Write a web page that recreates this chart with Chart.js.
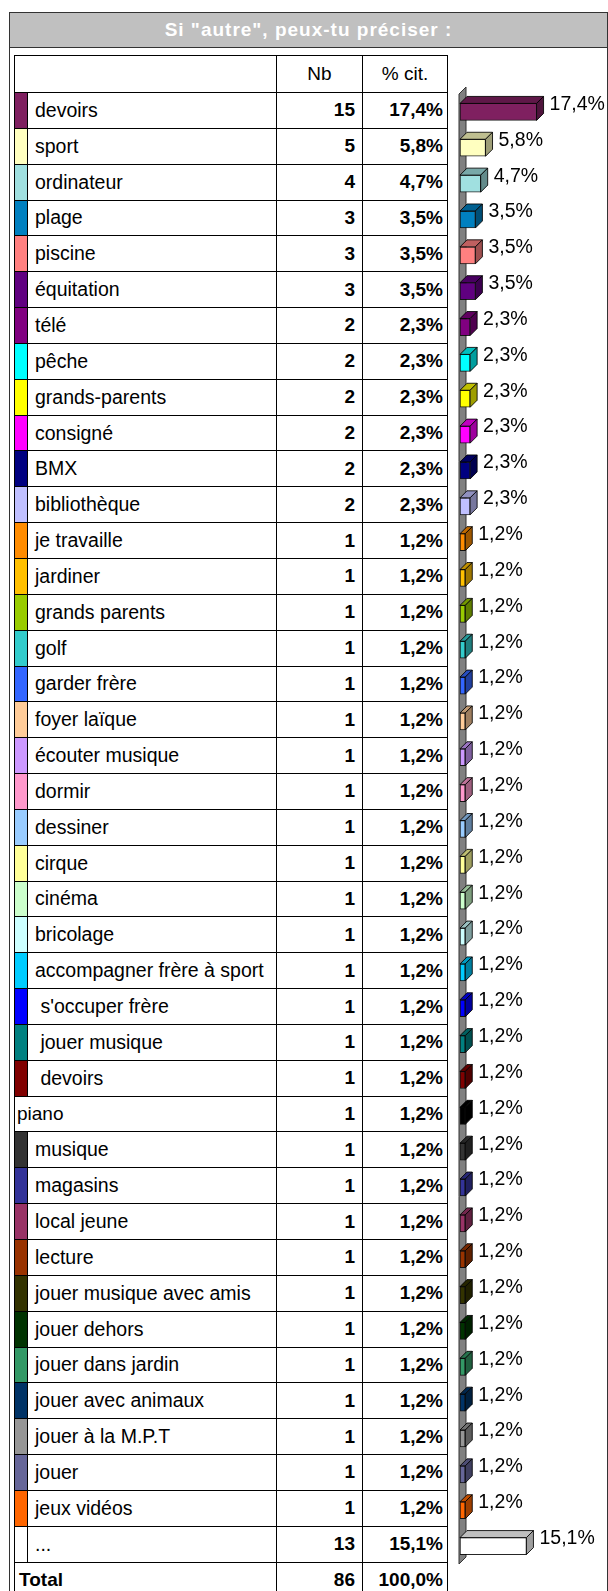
<!DOCTYPE html>
<html lang="fr">
<head>
<meta charset="utf-8">
<title>Si "autre", peux-tu préciser :</title>
<script src="https://cdn.jsdelivr.net/npm/chart.js@4"></script>
<style>
    html, body { margin: 0; padding: 0; background: #fff; overflow: hidden; }
    body { width: 608px; height: 1591px; position: relative; font-family: "Liberation Sans", Arial, sans-serif; color: #000; }
    #frame { position: absolute; left: 9px; top: 12px; width: 597px; height: 1620px; border: 1px solid #333; }
    #title { height: 34px; background: #c0c0c0; border-bottom: 1px solid #333; color: #fff; font-weight: bold; font-size: 19px; letter-spacing: 1px; text-align: center; line-height: 34px; }
    #grid { position: absolute; left: 14px; top: 55px; display: grid; grid-template-columns: 13px 249px 86px 85px; border-left: 1px solid #000; border-top: 1px solid #000; }
    #grid div { box-sizing: border-box; border-right: 1px solid #000; border-bottom: 1px solid #000; display: flex; align-items: center; font-size: 19px; white-space: pre; overflow: hidden; }
    #grid .lab { padding-left: 7px; font-size: 19.5px; }
    #grid .num { justify-content: flex-end; padding-right: 7px; font-weight: bold; }
    #grid .pct { justify-content: flex-end; padding-right: 4px; font-weight: bold; }
    #grid .head { justify-content: center; }
    #grid .wide { grid-column: span 2; padding-left: 2px; }
    #grid .total { grid-column: span 2; padding-left: 4px; font-weight: bold; }
    #chart { position: absolute; left: 440px; top: 0; }
</style>
</head>
<body>
<div id="frame"><div id="title">Si "autre", peux-tu préciser :</div></div>
<div id="grid"></div>
<canvas id="chart" width="168" height="1591"></canvas>

<script>
const categories = [
    "devoirs", "sport", "ordinateur", "plage", "piscine", "équitation", "télé", "pêche",
    "grands-parents", "consigné", "BMX", "bibliothèque", "je travaille", "jardiner",
    "grands parents", "golf", "garder frère", "foyer laïque", "écouter musique", "dormir",
    "dessiner", "cirque", "cinéma", "bricolage", "accompagner frère à sport", " s'occuper frère",
    " jouer musique", " devoirs", "piano", "musique", "magasins", "local jeune", "lecture",
    "jouer musique avec amis", "jouer dehors", "jouer dans jardin", "jouer avec animaux",
    "jouer à la M.P.T", "jouer", "jeux vidéos", "..."
];
const counts = [
    15, 5, 4, 3, 3, 3, 2, 2, 2, 2, 2, 2, 1, 1, 1, 1, 1, 1, 1, 1,
    1, 1, 1, 1, 1, 1, 1, 1, 1, 1, 1, 1, 1, 1, 1, 1, 1, 1, 1, 1, 13
];
const percents = [
    17.4, 5.8, 4.7, 3.5, 3.5, 3.5, 2.3, 2.3, 2.3, 2.3, 2.3, 2.3, 1.2, 1.2, 1.2, 1.2, 1.2, 1.2, 1.2, 1.2,
    1.2, 1.2, 1.2, 1.2, 1.2, 1.2, 1.2, 1.2, 1.2, 1.2, 1.2, 1.2, 1.2, 1.2, 1.2, 1.2, 1.2, 1.2, 1.2, 1.2, 15.1
];
const colors = [
    "#7f2060", "#ffffc0", "#a0e0e0", "#0080c0", "#ff8080", "#600080", "#800080", "#00ffff",
    "#ffff00", "#ff00ff", "#000080", "#c0c0ff", "#ff8c00", "#ffc000", "#99cc00", "#33cccc",
    "#3366ff", "#ffcc99", "#cc99ff", "#ff99cc", "#99ccff", "#ffff99", "#ccffcc", "#ccffff",
    "#00ccff", "#0000ff", "#008080", "#800000", "#000000", "#333333", "#333399", "#993366",
    "#993300", "#333300", "#003300", "#339966", "#003366", "#969696", "#666699", "#ff6600", "#ffffff"
];
const noSwatch = ["piano"];
const totalCount = 86;
const totalPercent = "100,0%";

const fmt = (v) => v.toFixed(1).replace(".", ",") + "%";

// Build the table
const buildTable = () => {
    const grid = document.getElementById("grid");
    grid.style.gridTemplateRows = `37px repeat(${categories.length + 1}, 35.85px)`;
    const cell = (cls, text, bg) => {
        const d = document.createElement("div");
        d.className = cls;
        d.textContent = text;
        if (bg) d.style.background = bg;
        grid.appendChild(d);
    };
    cell("wide", "");
    cell("head", "Nb");
    cell("head", "% cit.");
    categories.forEach((name, i) => {
        if (noSwatch.includes(name)) {
            cell("wide", name);
        } else {
            cell("", "", colors[i]);
            cell("lab", name);
        }
        cell("num", counts[i]);
        cell("pct", fmt(percents[i]));
    });
    cell("total", "Total");
    cell("num", totalCount);
    cell("pct", totalPercent);
};

const shade = (hex, k) => {
    const n = parseInt(hex.slice(1), 16);
    const r = Math.round(((n >> 16) & 255) * k);
    const g = Math.round(((n >> 8) & 255) * k);
    const b = Math.round((n & 255) * k);
    return `rgb(${r},${g},${b})`;
};

const DEPTH = 7;

// Gray back wall and 3D faces of the bars
const bar3d = {
    id: "bar3d",
    beforeDatasetsDraw: (chart) => {
        const { ctx, chartArea } = chart;
        const x0 = chart.scales.x.getPixelForValue(0) - 1;
        ctx.save();
        ctx.beginPath();
        ctx.moveTo(x0, chartArea.top);
        ctx.lineTo(x0 + DEPTH, chartArea.top - DEPTH);
        ctx.lineTo(x0 + DEPTH, chartArea.bottom - DEPTH);
        ctx.lineTo(x0, chartArea.bottom);
        ctx.closePath();
        ctx.fillStyle = "#808080";
        ctx.fill();
        ctx.strokeStyle = "#333";
        ctx.lineWidth = 1;
        ctx.stroke();
        ctx.restore();
    },
    afterDatasetsDraw: (chart) => {
        const { ctx } = chart;
        const meta = chart.getDatasetMeta(0);
        ctx.save();
        ctx.lineWidth = 1;
        ctx.strokeStyle = "rgba(0,0,0,0.85)";
        meta.data.forEach((bar, i) => {
            const { x, y, base, height } = bar.getProps(["x", "y", "base", "height"], true);
            const top = y - height / 2;
            const bottom = y + height / 2;
            // top face
            ctx.beginPath();
            ctx.moveTo(base, top);
            ctx.lineTo(base + DEPTH, top - DEPTH);
            ctx.lineTo(x + DEPTH, top - DEPTH);
            ctx.lineTo(x, top);
            ctx.closePath();
            ctx.fillStyle = shade(colors[i], 0.75);
            ctx.fill();
            ctx.stroke();
            // side face
            ctx.beginPath();
            ctx.moveTo(x, top);
            ctx.lineTo(x + DEPTH, top - DEPTH);
            ctx.lineTo(x + DEPTH, bottom - DEPTH);
            ctx.lineTo(x, bottom);
            ctx.closePath();
            ctx.fillStyle = shade(colors[i], 0.62);
            ctx.fill();
            ctx.stroke();
            // value label
            ctx.fillStyle = "#000";
            ctx.font = "19.5px 'Liberation Sans', Arial, sans-serif";
            ctx.textBaseline = "middle";
            ctx.textAlign = "left";
            ctx.fillText(fmt(percents[i]), x + DEPTH + 6, top + 1);
        });
        ctx.restore();
    }
};

const renderChart = () => {
    const ctx = document.getElementById("chart").getContext("2d");
    new Chart(ctx, {
        type: "bar",
        data: {
            labels: categories,
            datasets: [{
                data: percents,
                backgroundColor: colors,
                borderColor: "rgba(0,0,0,0.85)",
                borderWidth: 1,
                borderSkipped: false,
                barThickness: 17,
            }],
        },
        options: {
            indexAxis: "y",
            responsive: false,
            animation: false,
            layout: { padding: { left: 20, right: 16, top: 94, bottom: 27 } },
            plugins: {
                legend: { display: false },
                tooltip: { enabled: false },
            },
            scales: {
                x: { display: false, min: 0, max: 30 },
                y: { display: false },
            },
        },
        plugins: [bar3d],
    });
};

buildTable();
renderChart();
</script>
</body>
</html>
